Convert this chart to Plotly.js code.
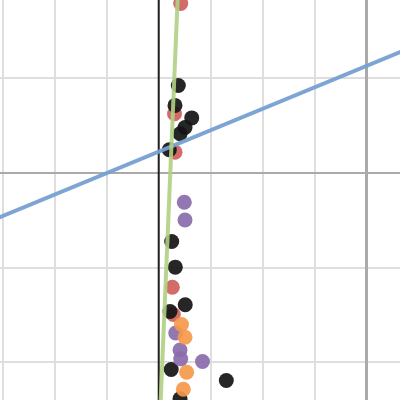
<!DOCTYPE html>
<html>
<head>
<meta charset="utf-8">
<script src="https://cdn.plot.ly/plotly-3.0.1.min.js"></script>
<style>
  html, body { margin: 0; padding: 0; background: #fff; }
  #chart { width: 400px; height: 400px; }
</style>
</head>
<body>
<div id="chart"></div>
<script>
// Point groups
const redX = [-3.577, -3.696, -3.687, -3.738, -3.719];
const redY = [1.792, 0.626, 0.220, -1.208, -1.496];

const blackX = [-3.623, -3.687, -3.365, -3.494, -3.590, -3.796, -3.750, -3.681, -3.490, -3.783, -3.760, -2.700, -3.590];
const blackY = [0.925, 0.714, 0.582, 0.481, 0.415, 0.245, -0.724, -0.996, -1.394, -1.465, -2.078, -2.194, -2.388];

const purpleX = [-3.508, -3.494, -3.673, -3.590, -3.577, -3.158];
const purpleY = [-0.309, -0.497, -1.692, -1.872, -1.965, -1.993];

const orangeX = [-3.562, -3.494, -3.462, -3.527];
const orangeY = [-1.602, -1.736, -2.106, -2.286];

// Fitted lines
const blueLineX = [-8, 1];
const blueLineY = [-0.682, 1.359];

const greenLineX = [-3.585, -4.008];
const greenLineY = [2.5, -3.0];

// Vertical reference line
const refLineX = [-4, -4];
const refLineY = [-3, 3];

function pts(x, y, color) {
  return {
    x: x, y: y, type: 'scatter', mode: 'markers',
    marker: { color: color, size: 15, opacity: 0.92 },
    hoverinfo: 'skip'
  };
}

const data = [
  { x: refLineX, y: refLineY, type: 'scatter', mode: 'lines',
    line: { color: '#222222', width: 2 }, hoverinfo: 'skip' },
  pts(redX, redY, '#cd5f5b'),
  pts(blackX, blackY, '#141414'),
  pts(purpleX, purpleY, '#8a6bab'),
  pts(orangeX, orangeY, '#f6994a'),
  { x: blueLineX, y: blueLineY, type: 'scatter', mode: 'lines',
    line: { color: '#76a0d2', width: 4 }, opacity: 0.95, hoverinfo: 'skip' },
  { x: greenLineX, y: greenLineY, type: 'scatter', mode: 'lines',
    line: { color: '#b0d084', width: 4 }, opacity: 0.9, hoverinfo: 'skip' }
];

const layout = {
  width: 400, height: 400,
  margin: { l: 0, r: 0, t: 0, b: 0, pad: 0 },
  paper_bgcolor: '#ffffff', plot_bgcolor: '#ffffff',
  showlegend: false,
  xaxis: {
    range: [-7.052, 0.640], dtick: 1, tick0: 0,
    showgrid: true, gridcolor: '#dedede', gridwidth: 2,
    zeroline: true, zerolinecolor: '#aaaaaa', zerolinewidth: 2.5,
    showticklabels: false, ticks: '', showline: false
  },
  yaxis: {
    range: [-2.40, 1.828], dtick: 1, tick0: 0,
    showgrid: true, gridcolor: '#dedede', gridwidth: 2,
    zeroline: true, zerolinecolor: '#aaaaaa', zerolinewidth: 2.5,
    showticklabels: false, ticks: '', showline: false
  }
};

Plotly.newPlot('chart', data, layout, { staticPlot: true, displayModeBar: false });
</script>
</body>
</html>
